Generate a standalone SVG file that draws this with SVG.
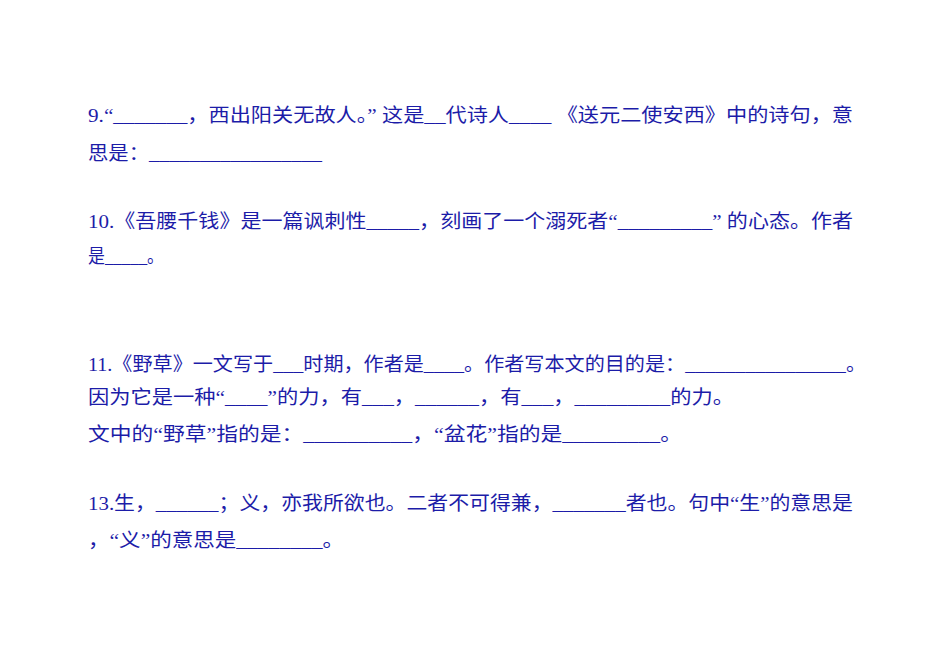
<svg xmlns="http://www.w3.org/2000/svg" width="950" height="672" viewBox="0 0 950 672">
<style>text{font-family:"Liberation Serif","Noto Sans CJK SC",serif;font-size:19px;fill:#1c1ca8}</style>
<rect width="950" height="672" fill="#fff"/>
<text x="88" y="122" textLength="765" lengthAdjust="spacingAndGlyphs">9.“_______，西出阳关无故人。” 这是__代诗人____ 《送元二使安西》中的诗句，意</text>
<text x="88" y="160" textLength="234" lengthAdjust="spacingAndGlyphs">思是：_________________</text>
<text x="88" y="228" textLength="765" lengthAdjust="spacingAndGlyphs">10.《吾腰千钱》是一篇讽刺性_____，刻画了一个溺死者“_________” 的心态。作者</text>
<text x="88" y="263" textLength="76" lengthAdjust="spacingAndGlyphs">是_____。</text>
<text x="88" y="371" textLength="778" lengthAdjust="spacingAndGlyphs">11.《野草》一文写于___时期，作者是____。作者写本文的目的是：________________。</text>
<text x="88" y="404" textLength="646" lengthAdjust="spacingAndGlyphs">因为它是一种“____”的力，有___，______，有___，_________的力。</text>
<text x="88" y="441" textLength="594" lengthAdjust="spacingAndGlyphs">文中的“野草”指的是：__________，“盆花”指的是_________。</text>
<text x="88" y="510" textLength="765" lengthAdjust="spacingAndGlyphs">13.生，______；义，亦我所欲也。二者不可得兼，_______者也。句中“生”的意思是</text>
<text x="88" y="547" textLength="256" lengthAdjust="spacingAndGlyphs">，“义”的意思是________。</text>
</svg>
